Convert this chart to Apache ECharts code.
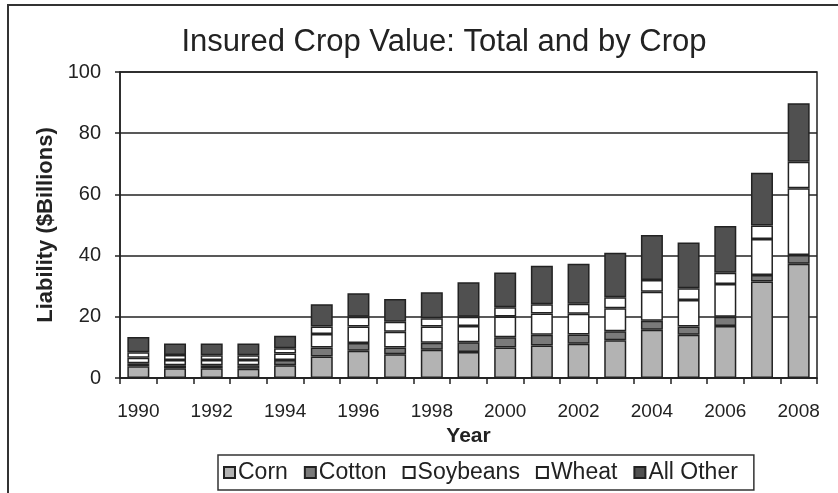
<!DOCTYPE html>
<html>
<head>
<meta charset="utf-8">
<script src="https://cdn.jsdelivr.net/npm/echarts@6/dist/echarts.min.js"></script>
<style>
html,body{margin:0;padding:0;background:#fff;}
#chart{width:838px;height:493px;}
</style>
</head>
<body>
<div id="chart"></div>
<script>
var years = ['1990','1991','1992','1993','1994','1995','1996','1997','1998','1999','2000','2001','2002','2003','2004','2005','2006','2007','2008'];
var corn     = [3.8, 3.2, 3.2, 3.0, 4.2, 7.0, 8.9, 7.8, 9.2, 8.5, 10.0, 10.6, 11.2, 12.3, 15.8, 14.1, 17.0, 31.5, 37.3];
var cotton   = [1.0, 1.0, 1.0, 1.2, 1.7, 3.0, 2.5, 2.2, 2.3, 3.2, 3.3, 3.5, 3.0, 3.0, 2.9, 2.7, 3.0, 2.2, 2.9];
var soybeans = [1.8, 1.7, 1.7, 1.7, 2.1, 4.4, 5.4, 5.1, 5.3, 5.3, 6.8, 7.0, 6.8, 7.5, 9.5, 8.7, 10.7, 11.7, 21.8];
var wheat    = [1.8, 1.6, 1.5, 1.5, 1.7, 2.4, 3.2, 3.3, 2.7, 3.0, 3.0, 3.0, 3.3, 3.6, 3.8, 3.8, 3.7, 4.4, 8.7];
var allOther = [5.0, 3.8, 3.9, 3.9, 4.1, 7.3, 7.7, 7.4, 8.5, 11.3, 11.4, 12.6, 13.0, 14.5, 14.7, 15.0, 15.3, 17.3, 19.1];
var yTicks = [0, 20, 40, 60, 80, 100];

var names = ['Corn','Cotton','Soybeans','Wheat','All Other'];
var values = [corn, cotton, soybeans, wheat, allOther];
var colors = ['#b3b3b3','#7a7a7a','#ffffff','#ffffff','#505050'];

var font = 'Liberation Sans, Arial, sans-serif';
var chart = echarts.init(document.getElementById('chart'));
chart.setOption({
  animation: false,
  backgroundColor: '#fff',
  title: {
    text: 'Insured Crop Value: Total and by Crop',
    left: 439, textAlign: 'center', top: 22,
    textStyle: {fontFamily: font, fontSize: 31, fontWeight: 'normal', color: '#222'}
  },
  graphic: [{
    type: 'rect', silent: true,
    shape: {x: 8, y: 5, width: 840, height: 500},
    style: {fill: 'none', stroke: '#333', lineWidth: 2}
  }],
  legend: {
    data: names,
    left: 218, top: 455,
    padding: [6, 16, 6, 5],
    borderColor: '#333', borderWidth: 1.5,
    itemGap: 16, itemWidth: 11, itemHeight: 11,
    icon: 'rect',
    textStyle: {fontFamily: font, fontSize: 23, color: '#222', padding: [0,0,0,-2]}
  },
  grid: {left: 120, right: 21, top: 72, bottom: 115, show: true, borderColor: '#222', borderWidth: 1.5},
  xAxis: {
    type: 'category', data: years,
    name: 'Year', nameLocation: 'middle', nameGap: 48,
    nameTextStyle: {fontFamily: font, fontSize: 21, fontWeight: 'bold', color: '#222'},
    axisLine: {lineStyle: {color: '#222', width: 1.5}},
    axisTick: {show: true, interval: 0, alignWithLabel: false, length: 6, lineStyle: {color: '#222', width: 1.5}},
    axisLabel: {interval: 1, margin: 24, fontFamily: font, fontSize: 19, color: '#222'}
  },
  yAxis: {
    type: 'value', min: yTicks[0], max: yTicks[yTicks.length-1], interval: yTicks[1]-yTicks[0],
    name: 'Liability ($Billions)', nameLocation: 'middle', nameGap: 59,
    nameTextStyle: {fontFamily: font, fontSize: 22, fontWeight: 'bold', color: '#222'},
    axisLine: {show: true, lineStyle: {color: '#222', width: 1.5}},
    axisTick: {show: true, length: 5, lineStyle: {color: '#222', width: 1.5}},
    axisLabel: {margin: 19, fontFamily: font, fontSize: 20, color: '#222'},
    splitLine: {lineStyle: {color: '#222', width: 1.5}}
  },
  series: names.map(function(n, i){
    return {
      name: n, type: 'bar', stack: 'total', data: values[i],
      barWidth: 22,
      itemStyle: {color: colors[i], borderColor: '#222', borderWidth: 1.5}
    };
  })
});
</script>
</body>
</html>
